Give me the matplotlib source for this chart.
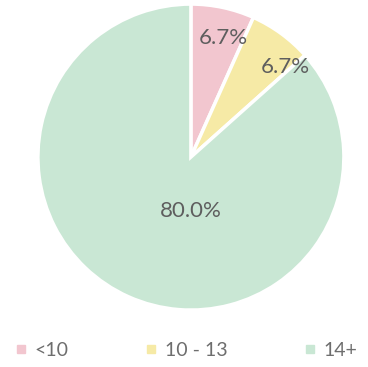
import matplotlib
matplotlib.use("Agg")
import matplotlib.pyplot as plt
from matplotlib.lines import Line2D

categories = ["<10", "10 - 13", "14+"]
shares = [6.7, 6.7, 86.6]          # slice sizes as drawn
label_texts = ["6.7%", "6.7%", "80.0%"]
colors = ["#F2C6CF", "#F6EAA6", "#C9E7D4"]

plt.rcParams['font.family'] = ['Lato', 'DejaVu Sans']

fig = plt.figure(figsize=(3.68, 3.67), dpi=100)
ax = fig.add_axes([0.103, 0.155, 0.8315, 0.834])
wedges, _ = ax.pie(shares, colors=colors, startangle=90, counterclock=False,
                   radius=1.0, wedgeprops=dict(edgecolor="white", linewidth=2.5))
ax.set_xlim(-1, 1)
ax.set_ylim(-1, 1)
ax.set_aspect("equal")
ax.axis("off")

label_pos = [(0.21, 0.78), (0.62, 0.59), (0.0, -0.35)]
for (x, y), t in zip(label_pos, label_texts):
    ax.text(x, y, t, ha="center", va="center", fontsize=16, color="#5e5e5e")

handles = [Line2D([0], [0], marker="s", linestyle="", markersize=5.5,
                  markerfacecolor=c, markeredgecolor=c) for c in colors]
fig.legend(handles, categories, loc="center", bbox_to_anchor=(0.508, 0.045),
           ncol=3, frameon=False, labelcolor="#6e6e6e",
           columnspacing=4.0, handletextpad=0.45, handlelength=0.5,
           prop=dict(size=14))

fig.savefig("out.png", dpi=100, facecolor="white")
